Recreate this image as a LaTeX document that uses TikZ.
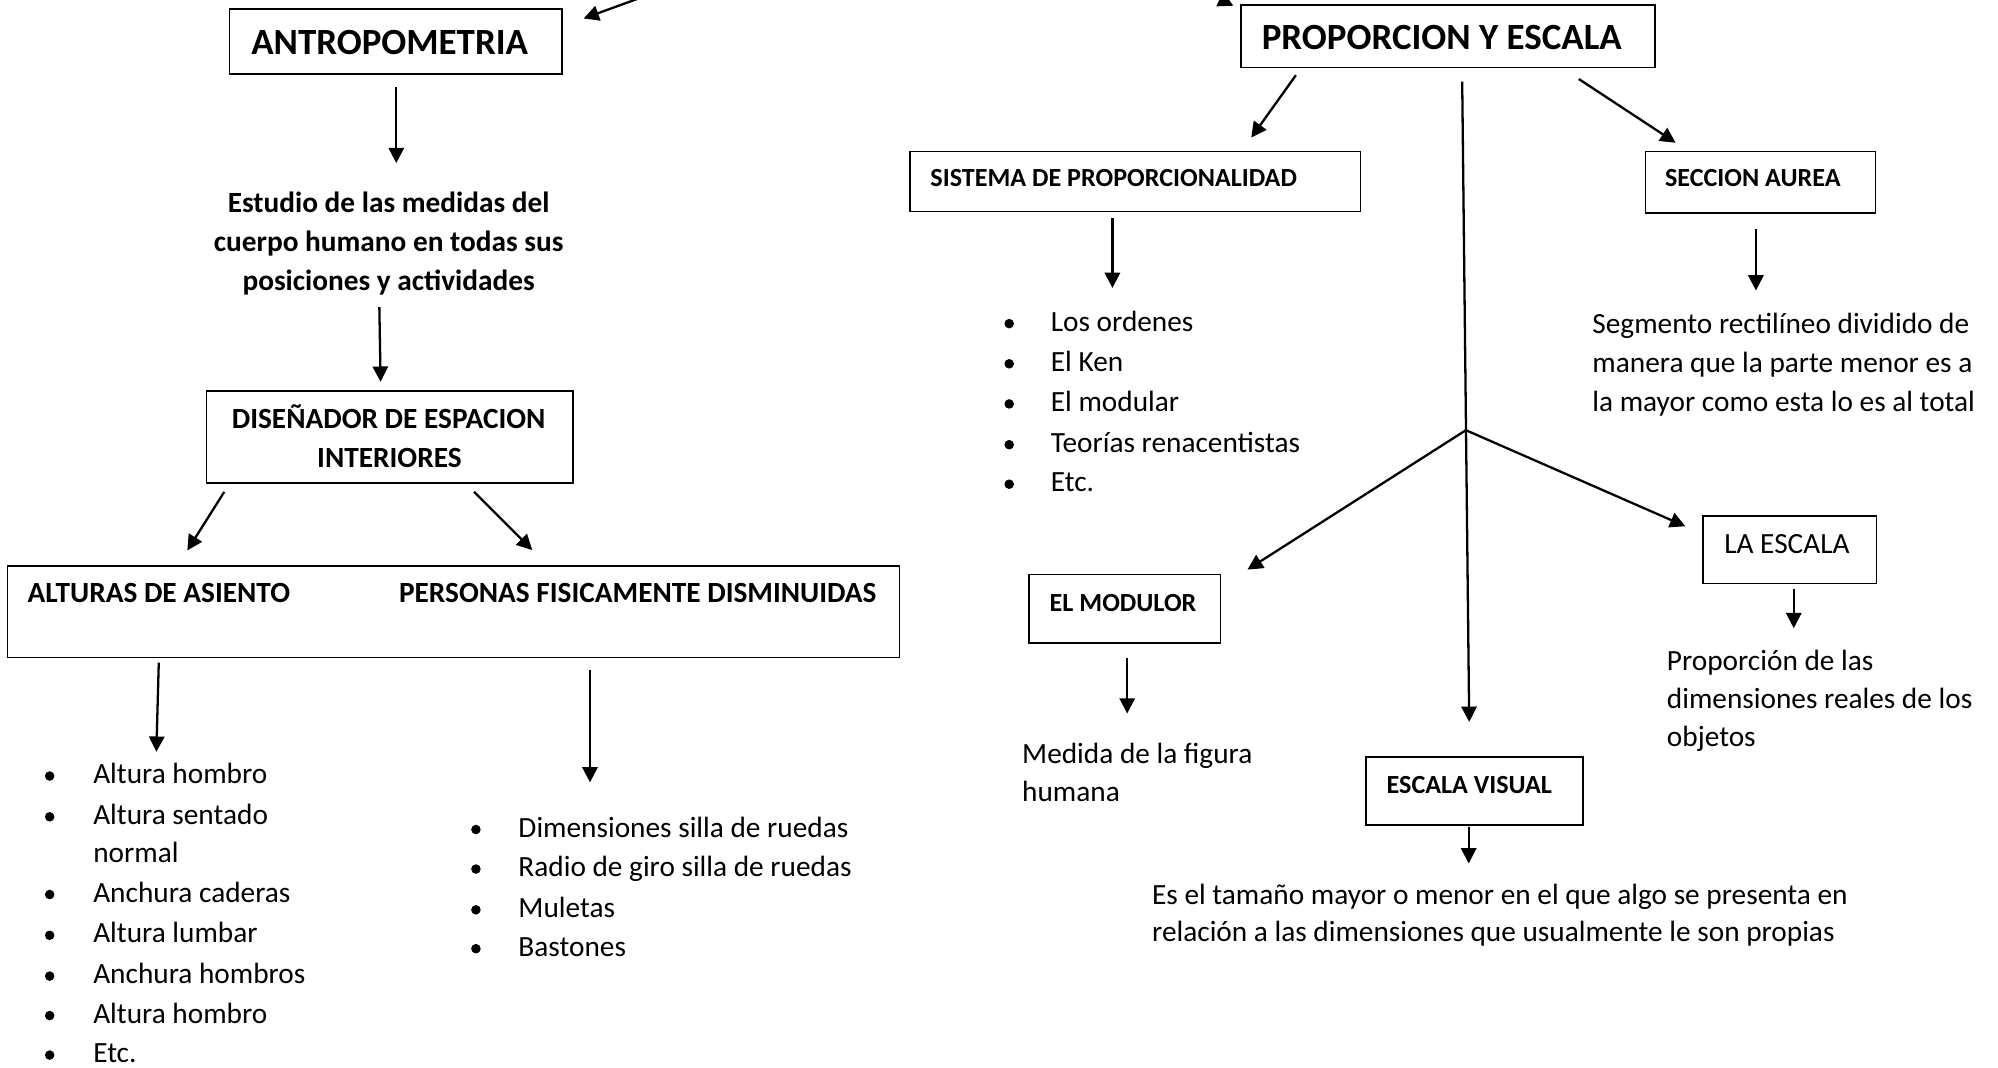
\documentclass[tikz,border=0pt]{standalone}
\usepackage{fontspec}
\setmainfont{Carlito}
\usetikzlibrary{arrows.meta}
\begin{document}
\begin{tikzpicture}[x=1pt,y=-1pt,
  boxst/.style={draw, line width=1.2pt, rectangle, inner sep=0pt, outer sep=0pt, anchor=north west},
  arr/.style={line width=1.8pt, -{Triangle[length=12pt,width=12pt]}},
  ttl/.style={font=\bfseries\fontsize{29}{35}\selectfont, inner sep=0pt, anchor=base west},
  bb/.style={font=\bfseries\fontsize{23}{28}\selectfont, inner sep=0pt, anchor=base west},
  bbc/.style={font=\bfseries\fontsize{23}{28}\selectfont, inner sep=0pt, anchor=base},
  sb/.style={font=\bfseries\fontsize{20.5}{25}\selectfont, inner sep=0pt, anchor=base west},
  rg/.style={font=\fontsize{23}{28}\selectfont, inner sep=0pt, anchor=base west},
  bul/.style={circle, fill=black, inner sep=0pt, minimum size=7.5pt}]
\useasboundingbox (0,0) rectangle (1568,838);
\fill[white] (0,0) rectangle (1568,838);

% ---------------- LEFT ----------------
\node[boxst, minimum width=261pt, minimum height=51pt] (antro) at (180,7) {};
\node[ttl] (antrot) at (197,42.5) {ANTROPOMETRIA};
\coordinate (tlA) at (506,-3);
\coordinate (tlB) at (458,14.5);
\draw[arr] (tlA) -- (tlB);

\coordinate (a1s) at (311,68.5);
\coordinate (a1e) at (311,128);
\draw[arr] (a1s) -- (a1e);

\node[bbc] (est1) at (305,167) {Estudio de las medidas del};
\node[bbc] (est2) at (305,197.5) {cuerpo humano en todas sus};
\node[bbc] (est3) at (305,228) {posiciones y actividades};

\coordinate (a2s) at (297.7,241);
\coordinate (a2e) at (298.7,299.6);
\draw[arr] (a2s) -- (a2e);

\node[boxst, minimum width=287.5pt, minimum height=72pt] (dis) at (162,307) {};
\node[bbc] (dis1) at (305,336) {DISEÑADOR DE ESPACION};
\node[bbc] (dis2) at (305.6,366.5) {INTERIORES};

\coordinate (a3s) at (176,386);
\coordinate (a3e) at (147,432);
\draw[arr] (a3s) -- (a3e);
\coordinate (a4s) at (372,386);
\coordinate (a4e) at (417.7,431.7);
\draw[arr] (a4s) -- (a4e);

\node[boxst, minimum width=700pt, minimum height=72pt] (big) at (6,444) {};
\node[bb] (alt) at (21.5,473) {ALTURAS DE ASIENTO};
\node[bb] (per) at (313,473) {PERSONAS FISICAMENTE DISMINUIDAS};

\coordinate (a5s) at (124.6,520);
\coordinate (a5e) at (122.7,590);
\draw[arr] (a5s) -- (a5e);
\coordinate (a6s) at (463,526);
\coordinate (a6e) at (463,614);
\draw[arr] (a6s) -- (a6e);

\foreach \y/\t [count=\i] in {615/Altura hombro, 647/Altura sentado, 708/Anchura caderas, 740/Altura lumbar, 772/Anchura hombros, 803/Altura hombro, 834/Etc.} {
  \node[bul] (lb\i) at (39,\y-6) {};
  \node[rg] (lt\i) at (73,\y) {\t};
}
\node[rg] (ltn) at (73,677) {normal};

\foreach \y/\t [count=\i] in {657/Dimensiones silla de ruedas, 688/Radio de giro silla de ruedas, 720/Muletas, 750.5/Bastones} {
  \node[bul] (rb\i) at (373.5,\y-6) {};
  \node[rg] (rt\i) at (406.7,\y) {\t};
}

% ---------------- RIGHT ----------------
\node[boxst, minimum width=325pt, minimum height=49pt] (prop) at (974,4) {};
\node[ttl] (propt) at (990,39) {PROPORCION Y ESCALA};
\coordinate (trA) at (946,-6);
\coordinate (trB) at (968,4.5);
\draw[arr] (trA) -- (trB);

\coordinate (b1s) at (1017,59);
\coordinate (b1e) at (982,108);
\draw[arr] (b1s) -- (b1e);
\coordinate (b2s) at (1239,62);
\coordinate (b2e) at (1315,112);
\draw[arr] (b2s) -- (b2e);

\coordinate (vtop) at (1147.5,64);
\coordinate (vbot) at (1153,566.5);
\draw[arr] (vtop) -- (vbot);
\coordinate (br) at (1150.4,337.6);
\coordinate (b3e) at (979,447);
\draw[arr] (br) -- (b3e);
\coordinate (b4e) at (1322.6,413);
\draw[arr] (br) -- (b4e);

\node[boxst, minimum width=353.5pt, minimum height=47pt] (sis) at (714,119) {};
\node[sb] (sist) at (730,146.5) {SISTEMA DE PROPORCIONALIDAD};
\coordinate (b5s) at (873,171);
\coordinate (b5e) at (873,226);
\draw[arr] (b5s) -- (b5e);
\foreach \y/\t [count=\i] in {260/Los ordenes, 291.5/El Ken, 323/El modular, 355/Teorías renacentistas, 386/Etc.} {
  \node[bul] (sb\i) at (792,\y-6) {};
  \node[rg] (st\i) at (824.5,\y) {\t};
}

\node[boxst, minimum width=180.5pt, minimum height=48pt] (sec) at (1291.5,119) {};
\node[sb] (sect) at (1306.5,146.5) {SECCION AUREA};
\coordinate (b6s) at (1378,180);
\coordinate (b6e) at (1378,228);
\draw[arr] (b6s) -- (b6e);
\node[rg] (seg1) at (1249.5,261.5) {Segmento rectilíneo dividido de};
\node[rg] (seg2) at (1249.5,292.5) {manera que la parte menor es a};
\node[rg] (seg3) at (1249.5,322.6) {la mayor como esta lo es al total};

\node[boxst, minimum width=136.2pt, minimum height=53pt] (esc) at (1336.6,405) {};
\node[rg] (esct) at (1353,434) {LA ESCALA};
\coordinate (b7s) at (1407.7,462);
\coordinate (b7e) at (1407.7,493);
\draw[arr] (b7s) -- (b7e);
\node[rg] (pro1) at (1308,526) {Proporción de las};
\node[rg] (pro2) at (1308,556) {dimensiones reales de los};
\node[rg] (pro3) at (1308,586) {objetos};

\node[boxst, minimum width=150.4pt, minimum height=53.6pt] (mod) at (807.6,451) {};
\node[sb] (modt) at (823.6,479.5) {EL MODULOR};
\coordinate (b8s) at (884.6,516);
\coordinate (b8e) at (884.6,560);
\draw[arr] (b8s) -- (b8e);
\node[rg] (med1) at (802,599) {Medida de la figura};
\node[rg] (med2) at (802,629) {humana};

\node[boxst, minimum width=170.5pt, minimum height=53.6pt] (vis) at (1072,594) {};
\node[sb] (vist) at (1088,622.5) {ESCALA VISUAL};
\coordinate (b9s) at (1152.6,649);
\coordinate (b9e) at (1152.6,677.6);
\draw[arr] (b9s) -- (b9e);
\node[rg] (es1) at (904,710) {Es el tamaño mayor o menor en el que algo se presenta en};
\node[rg] (es2) at (904,739) {relación a las dimensiones que usualmente le son propias};
\end{tikzpicture}
\end{document}
